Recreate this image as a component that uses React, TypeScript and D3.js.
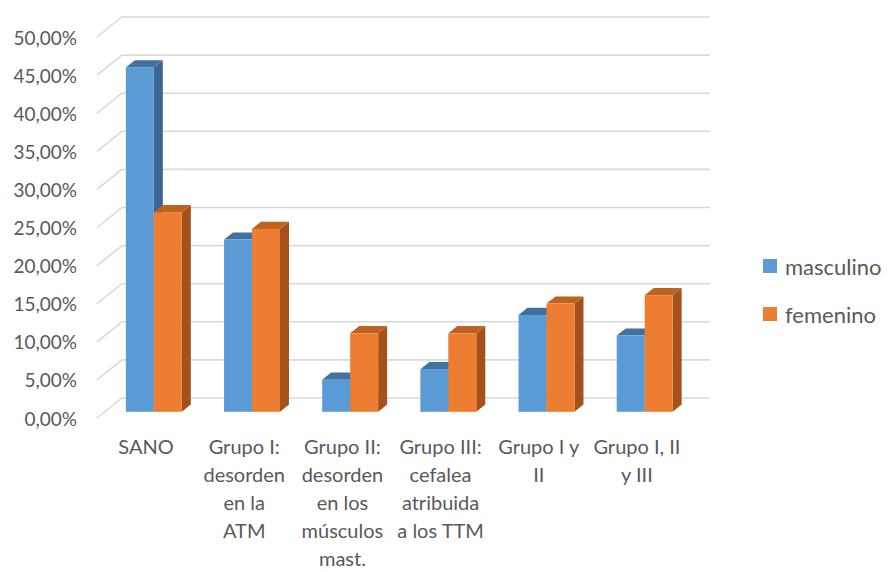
import React, { useRef, useEffect } from 'react';
import * as d3 from 'd3';

// data
const categories = [
  ['SANO'],
  ['Grupo I:', 'desorden', 'en la', 'ATM'],
  ['Grupo II:', 'desorden', 'en los', 'músculos', 'mast.'],
  ['Grupo III:', 'cefalea', 'atribuida', 'a los TTM'],
  ['Grupo I y', 'II'],
  ['Grupo I, II', 'y III'],
];
const masculino = [45.2, 22.6, 4.2, 5.6, 12.7, 10.0];
const femenino = [26.2, 24.0, 10.3, 10.3, 14.2, 15.3];
const seriesNames = ['masculino', 'femenino'];
const yTicks = [0, 5, 10, 15, 20, 25, 30, 35, 40, 45, 50];

const WIDTH = 894;
const HEIGHT = 572;
const FONT = 'Lato, "Open Sans", sans-serif';

const App = () => {
  const ref = useRef(null);

  useEffect(() => {
    const svg = d3.select(ref.current);
    svg.selectAll('*').remove();

    // front plane of the 3d box
    const left = 97, right = 686;
    const depthX = 25, depthY = -20;
    const d0 = 0.31, d1 = 0.67; // bar depth (fraction of floor depth)

    const x = d3.scaleBand()
      .domain(categories.map((_, i) => String(i)))
      .range([left, right])
      .paddingInner(0.43)
      .paddingOuter(0.215);

    const y = d3.scaleLinear().domain([0, 50]).range([418, 37]);

    // gridlines: diagonal on side wall + back wall line
    const grid = svg.append('g')
      .attr('stroke', '#d9d9d9')
      .attr('stroke-width', 1.6)
      .attr('fill', 'none');
    yTicks.forEach(t => {
      const yf = y(t);
      grid.append('path')
        .attr('d', `M${left},${yf}L${left + depthX},${yf + depthY}L710,${yf + depthY}`);
    });

    // tick labels
    svg.append('g')
      .selectAll('text')
      .data(yTicks)
      .enter()
      .append('text')
      .attr('x', 77)
      .attr('y', d => y(d))
      .attr('text-anchor', 'end')
      .attr('dominant-baseline', 'central')
      .attr('font-family', FONT)
      .attr('font-size', 19)
      .attr('fill', '#595959')
      .text(d => d3.format('.2f')(d).replace('.', ',') + '%');

    const colors = [
      { front: '#5b9bd5', side: '#3b6694', top: '#41729f' },
      { front: '#ed7d31', side: '#a5511b', top: '#c0621f' },
    ];

    const bw = x.bandwidth() / 2;
    const ox0 = d0 * depthX, oy0 = d0 * depthY;
    const ox1 = d1 * depthX, oy1 = d1 * depthY;

    const bars = svg.append('g');
    categories.forEach((_, i) => {
      [masculino[i], femenino[i]].forEach((v, s) => {
        const c = colors[s];
        const x0 = x(String(i)) + s * bw + ox0;
        const x1 = x0 + bw;
        const yb = y(0) + oy0;
        const yt = y(v) + oy0;
        const ddx = ox1 - ox0, ddy = oy1 - oy0;
        // side
        bars.append('path')
          .attr('d', `M${x1},${yt}L${x1 + ddx},${yt + ddy}L${x1 + ddx},${yb + ddy}L${x1},${yb}Z`)
          .attr('fill', c.side);
        // top
        bars.append('path')
          .attr('d', `M${x0},${yt}L${x0 + ddx},${yt + ddy}L${x1 + ddx},${yt + ddy}L${x1},${yt}Z`)
          .attr('fill', c.top);
        // front
        bars.append('rect')
          .attr('x', x0)
          .attr('y', yt)
          .attr('width', bw)
          .attr('height', yb - yt)
          .attr('fill', c.front);
      });
    });

    // category labels
    const cat = svg.append('g')
      .attr('font-family', FONT)
      .attr('font-size', 20)
      .attr('fill', '#595959')
      .attr('text-anchor', 'middle');
    categories.forEach((lines, i) => {
      const cx = x(String(i)) + x.bandwidth() / 2;
      lines.forEach((line, j) => {
        cat.append('text')
          .attr('x', cx)
          .attr('y', 446 + j * 28)
          .attr('dominant-baseline', 'central')
          .text(line);
      });
    });

    // legend
    const legend = svg.append('g');
    seriesNames.forEach((name, s) => {
      const ly = 266 + s * 48;
      legend.append('rect')
        .attr('x', 763)
        .attr('y', ly - 7)
        .attr('width', 14)
        .attr('height', 14)
        .attr('fill', colors[s].front);
      legend.append('text')
        .attr('x', 785)
        .attr('y', ly)
        .attr('dominant-baseline', 'central')
        .attr('font-family', FONT)
        .attr('font-size', 22)
        .attr('fill', '#595959')
        .text(name);
    });
  }, []);

  return (
    <svg
      ref={ref}
      width={WIDTH}
      height={HEIGHT}
      style={{ position: 'absolute', left: 0, top: 0, background: '#fff' }}
    ></svg>
  );
};

export default App;
